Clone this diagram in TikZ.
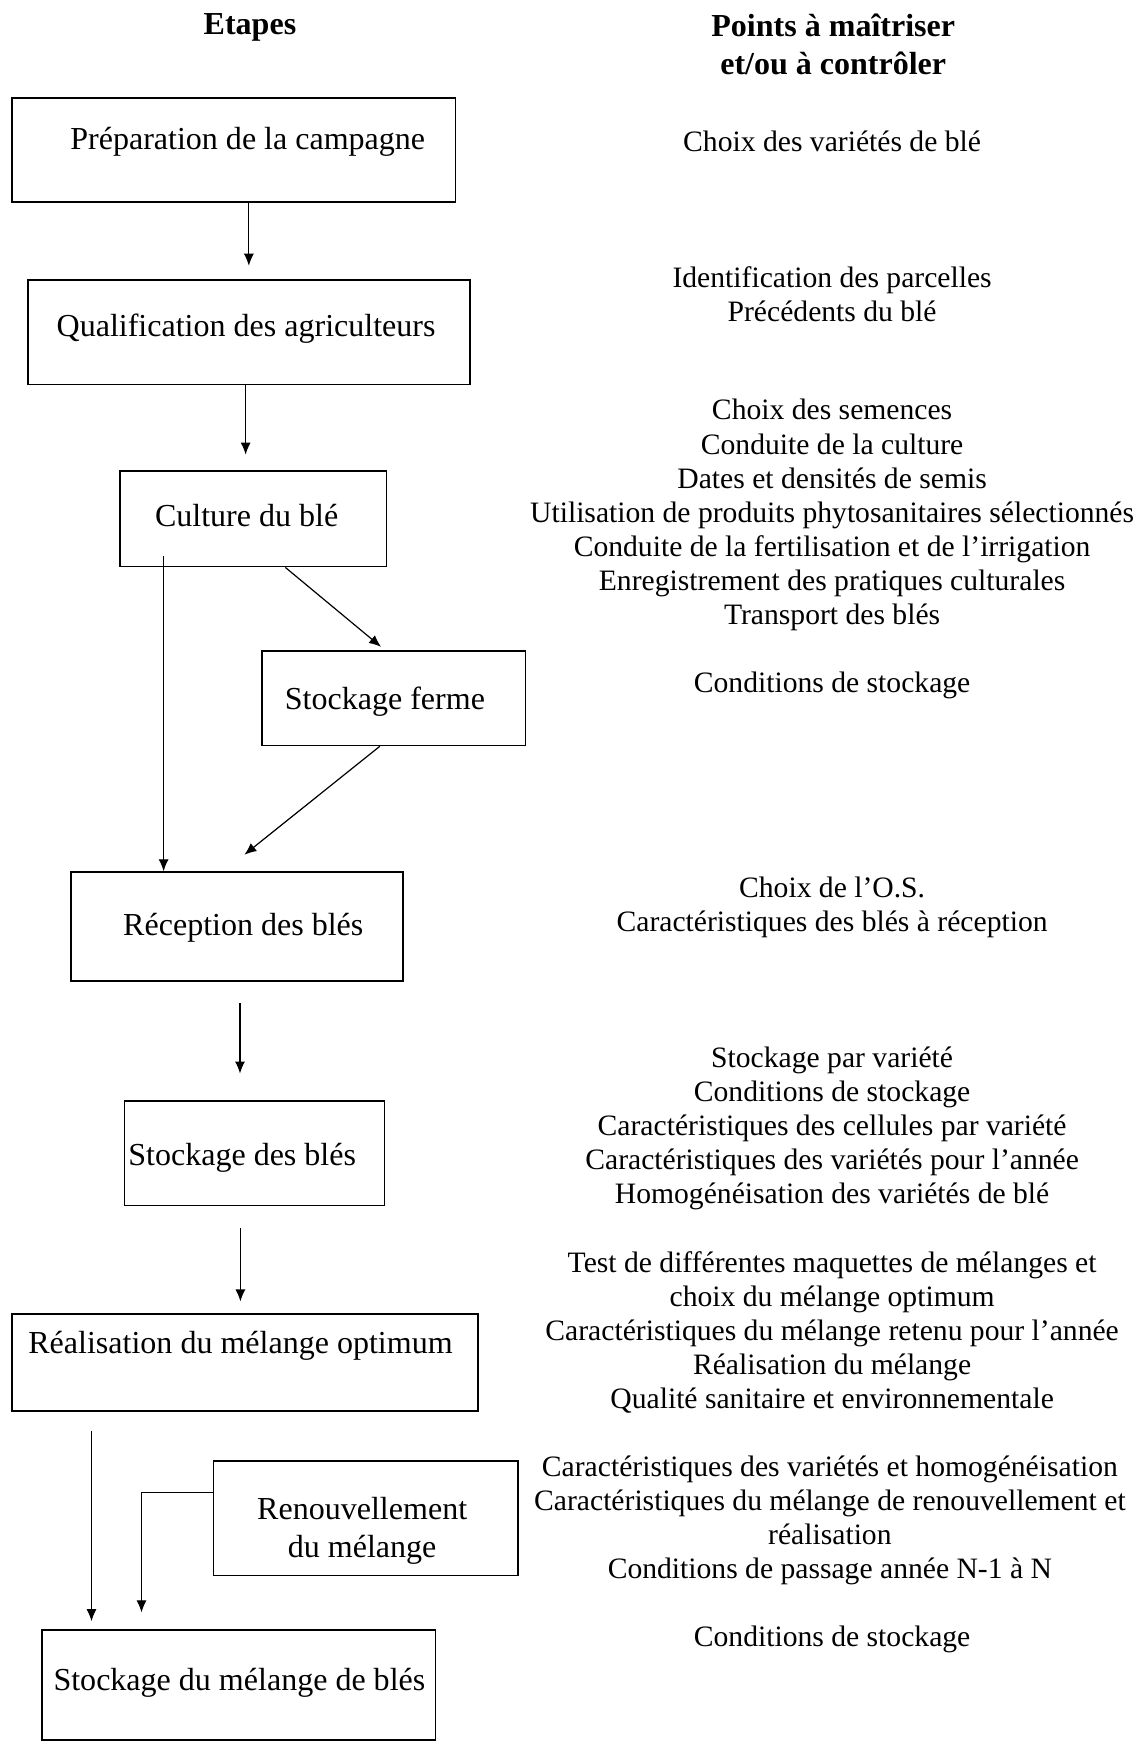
\documentclass[tikz,border=0pt]{standalone}
\usepackage{fontspec}
\setmainfont{Liberation Serif}
\usepackage{tikz}
\usetikzlibrary{arrows.meta,fit}

\begin{document}
\begin{tikzpicture}
                [
                x=0.555pt, y=-0.555pt,
                etape/.style={draw,line width=0.8pt,inner sep=0pt},
                txt/.style={font=\fontsize{16}{18.9}\selectfont,align=center,inner sep=0pt},
                point/.style={font=\fontsize{14.8}{17}\selectfont,align=center,inner sep=0pt},
                titre/.style={font=\bfseries\fontsize{16}{19}\selectfont,align=center,inner sep=0pt},
                edge/.style={->,line width=0.6pt,>={Latex[length=6pt,width=5pt]}}
                ]
            \useasboundingbox (0,0) rectangle (1023,1568);
            % titres
            \node[titre] (h-etapes) at (225,25) {Etapes};
            \node[titre] (h-points) at (750,40) {Points à maîtriser\\et/ou à contrôler};
            % etapes
            \node[etape,fit={(11,88) (410,182)}] (prep) {};
            \node[txt] (t-prep) at (223,128) {Préparation de la campagne};
            \node[etape,fit={(25,252) (423,346)}] (qual) {};
            \node[txt] (t-qual) at (221.5,296) {Qualification des agriculteurs};
            \node[etape,fit={(108,424) (348,510)}] (cult) {};
            \node[txt] (t-cult) at (222,464) {Culture du blé};
            \node[etape,fit={(236,586) (473,671)}] (ferme) {};
            \node[txt] (t-ferme) at (346.5,632) {Stockage ferme};
            \node[etape,fit={(64,785) (363,883)}] (recep) {};
            \node[txt] (t-recep) at (219,835) {Réception des blés};
            \node[etape,fit={(112,991) (346,1085)}] (stock) {};
            \node[txt] (t-stock) at (218,1042) {Stockage des blés};
            \node[etape,fit={(11,1183) (430,1270)}] (mel) {};
            \node[txt] (t-mel) at (216.5,1211) {Réalisation du mélange optimum};
            \node[etape,fit={(192,1315) (466,1418)}] (renouv) {};
            \node[txt] (t-renouv) at (326,1378) {Renouvellement\\du mélange};
            \node[etape,fit={(38,1467) (392,1566)}] (stockmel) {};
            \node[txt] (t-stockmel) at (215.5,1515) {Stockage du mélange de blés};
            % points a maitriser
            \node[point] (p1) at (749,127) {Choix des variétés de blé};
            \node[point] (p2) at (749,264.5) {Identification des parcelles\\Précédents du blé};
            \node[point] (p3) at (749,463.5) {Choix des semences\\Conduite de la culture\\Dates et densités de semis\\Utilisation de produits phytosanitaires sélectionnés\\Conduite de la fertilisation et de l’irrigation\\Enregistrement des pratiques culturales\\Transport des blés};
            \node[point] (p4) at (749,616.5) {Conditions de stockage};
            \node[point] (p5) at (749,817) {Choix de l’O.S.\\Caractéristiques des blés à réception};
            \node[point] (p6) at (749,1016) {Stockage par variété\\Conditions de stockage\\Caractéristiques des cellules par variété\\Caractéristiques des variétés pour l’année\\Homogénéisation des variétés de blé};
            \node[point] (p7) at (749,1199.5) {Test de différentes maquettes de mélanges et\\choix du mélange optimum\\Caractéristiques du mélange retenu pour l’année\\Réalisation du mélange\\Qualité sanitaire et environnementale};
            \node[point] (p8) at (747,1368.5) {Caractéristiques des variétés et homogénéisation\\Caractéristiques du mélange de renouvellement et\\réalisation\\Conditions de passage année N-1 à N};
            \node[point] (p9) at (749,1475.5) {Conditions de stockage};
            % fleches
            \draw[edge,shorten >=6.7pt] (qual.north |- prep.south) -- (qual.north);
            \draw[edge,shorten >=7.8pt] ([xshift=-1.6pt]qual.south) -- ([xshift=-1.6pt]qual.south |- cult.north);
            \draw[edge] ([xshift=22.2pt,yshift=5.5pt]cult.south west) -- ([xshift=22.2pt]cult.south west |- recep.north);
            \draw[edge] ([xshift=16pt]cult.south) -- ([xshift=-6.4pt,yshift=1.7pt]ferme.north);
            \draw[edge] ([xshift=-7pt]ferme.south) -- ([xshift=3.6pt,yshift=8.3pt]recep.north);
            \draw[edge,shorten <=10.5pt,shorten >=13.3pt] ([xshift=1.4pt]recep.south) -- ([xshift=1.4pt]recep.south |- stock.north);
            \draw[edge,shorten <=11pt,shorten >=6pt] ([xshift=-7pt]stock.south) -- ([xshift=-7pt]stock.south |- mel.north);
            \draw[edge,shorten <=9.4pt,shorten >=3.9pt] ([xshift=40pt]mel.south west) -- ([xshift=40pt]mel.south west |- stockmel.north);
            \draw[edge,shorten >=8.3pt] ([yshift=13pt]renouv.west) -| ([xshift=50pt]stockmel.north west);
            \end{tikzpicture}
\end{document}
